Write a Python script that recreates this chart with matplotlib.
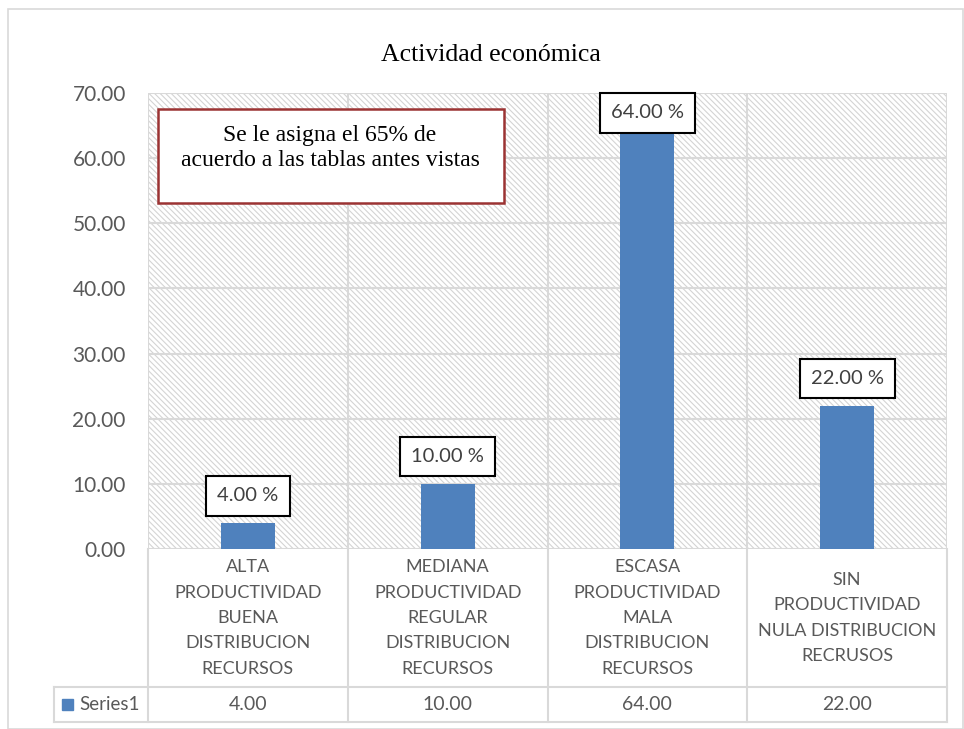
import matplotlib
matplotlib.use('Agg')
from matplotlib import pyplot as plt
from matplotlib.patches import Rectangle
import matplotlib.transforms as mtransforms

# Data
categories = ['ALTA\nPRODUCTIVIDAD\nBUENA\nDISTRIBUCION\nRECURSOS',
              'MEDIANA\nPRODUCTIVIDAD\nREGULAR\nDISTRIBUCION\nRECURSOS',
              'ESCASA\nPRODUCTIVIDAD\nMALA\nDISTRIBUCION\nRECURSOS',
              'SIN\nPRODUCTIVIDAD\nNULA DISTRIBUCION\nRECRUSOS']
values = [4.00, 10.00, 64.00, 22.00]
series_name = 'Series1'
yticks = [0, 10, 20, 30, 40, 50, 60, 70]

bar_color = '#4F81BD'
grid_color = '#D9D9D9'
text_color = '#595959'
sans = ['Lato', 'DejaVu Sans']
serif = ['Liberation Serif', 'DejaVu Serif']

plt.rcParams['hatch.color'] = '#D4D4D4'
plt.rcParams['hatch.linewidth'] = 0.8

fig = plt.figure(figsize=(9.64, 7.29), dpi=100)
W, H = 964, 729
ax = fig.add_axes([148 / W, (H - 549) / H, 799 / W, 456 / H])

# outer chart border
fig.patches.append(Rectangle((8 / W, 0.5 / H), 955 / W, 720 / H, transform=fig.transFigure,
                             fill=False, edgecolor=grid_color, lw=1.2))

x = list(range(len(values)))
ymax = 70
ax.set_xlim(-0.5, len(values) - 0.5)
ax.set_ylim(0, ymax)

# hatched plot background
ax.add_patch(Rectangle((0, 0), 1, 1, transform=ax.transAxes, facecolor='white',
                       hatch='\\\\\\\\\\\\', edgecolor='#D4D4D4', lw=0, zorder=0))

for t in yticks:
    ax.axhline(t, color=grid_color, lw=1.5, zorder=1)
for b in [i - 0.5 for i in range(len(values) + 1)]:
    ax.axvline(b, color=grid_color, lw=1.5, zorder=1)

ax.bar(x, values, width=0.27, color=bar_color, zorder=2)

# data labels in boxes; keep the box inside the plot area
px_per_unit = 456 / ymax
for xi, v in zip(x, values):
    off_px = min(27, (ymax - v) * px_per_unit - 20)
    ax.annotate(f'{v:.2f} %', (xi, v), xytext=(0, off_px * 0.72), textcoords='offset points',
                ha='center', va='center', fontsize=14.5, color='#404040', family=sans,
                bbox=dict(boxstyle='square,pad=0.55', facecolor='white', edgecolor='black', lw=1.5),
                zorder=3)

for s in ax.spines.values():
    s.set_visible(False)
ax.set_xticks([])
ax.set_yticks(yticks)
ax.set_yticklabels([f'{t:.2f}' for t in yticks], fontsize=15, color=text_color, family=sans)
ax.tick_params(axis='y', length=0, pad=16)

# data table below the axis
tr = mtransforms.blended_transform_factory(ax.transData, ax.transAxes)
row1 = -(687 - 549) / 456
row2 = -(722 - 549) / 456
left = -0.5 - 94 / 200
kw = dict(color=grid_color, lw=1.5, clip_on=False, transform=tr)
ax.plot([left, 3.5], [row1, row1], **kw)
ax.plot([left, 3.5], [row2, row2], **kw)
ax.plot([left, left], [row1, row2], **kw)
for b in [i - 0.5 for i in range(len(values) + 1)]:
    ax.plot([b, b], [0, row2], **kw)

for xi, c, v in zip(x, categories, values):
    ax.text(xi, row1 / 2, c, transform=tr, ha='center', va='center', fontsize=13,
            color=text_color, family=sans, linespacing=1.72)
    ax.text(xi, (row1 + row2) / 2, f'{v:.2f}', transform=tr, ha='center', va='center',
            fontsize=14, color=text_color, family=sans)

ax.add_patch(Rectangle((left + 0.04, (row1 + row2) / 2 - 0.013), 0.055, 0.026, transform=tr,
                       color=bar_color, clip_on=False))
ax.text(left + 0.125, (row1 + row2) / 2, series_name, transform=tr, ha='left', va='center',
        fontsize=13.5, color=text_color, family=sans)

# title and note box
fig.text(491 / W, 1 - 55 / H, 'Actividad económica', ha='center', va='center',
         fontsize=18.5, family=serif, color='black')
fig.patches.append(Rectangle((158 / W, (H - 203) / H), 346 / W, 94 / H, transform=fig.transFigure,
                             fill=True, facecolor='white', edgecolor='#9B3333', lw=1.8, zorder=5))
fig.text(330 / W, 1 - 148 / H, 'Se le asigna el 65% de\nacuerdo a las tablas antes vistas',
         ha='center', va='center', fontsize=17, family=serif, color='black', zorder=6,
         linespacing=1.3)

fig.savefig('out.png', dpi=100)
